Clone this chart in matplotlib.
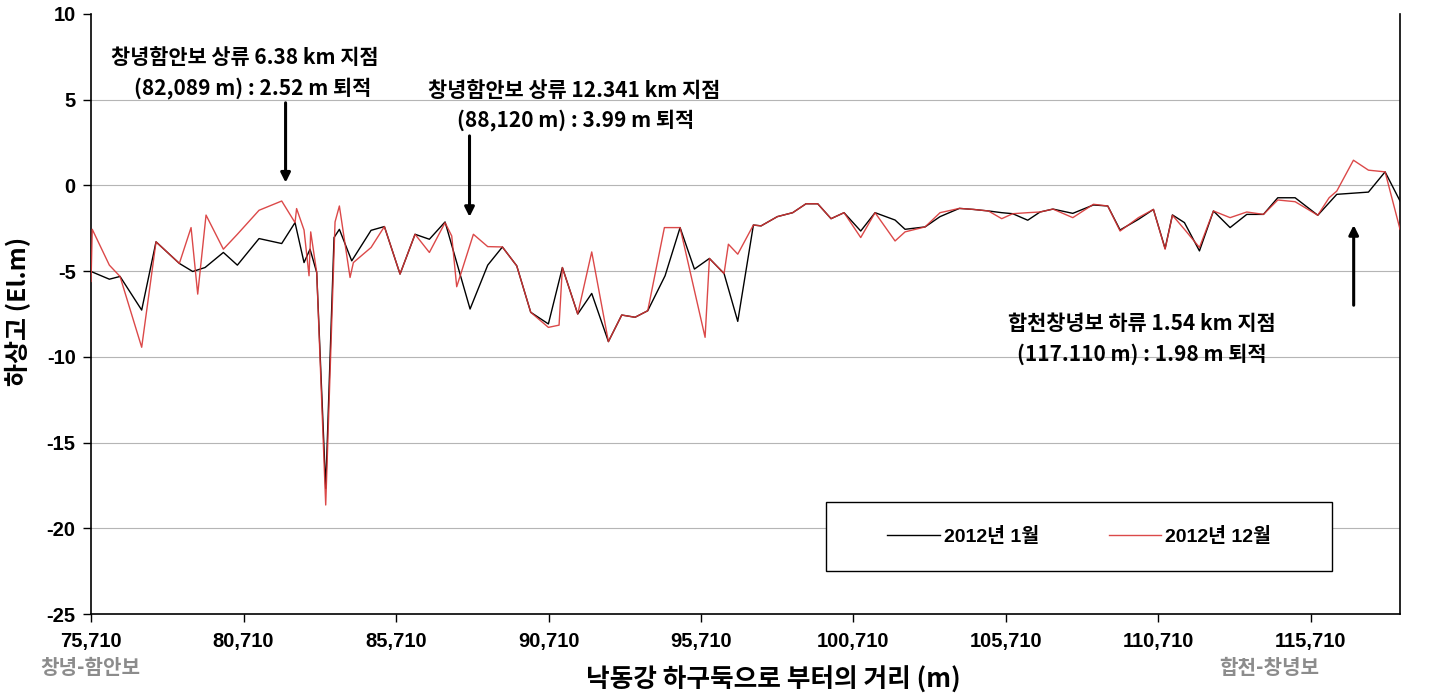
import matplotlib
matplotlib.use('Agg')
from matplotlib import pyplot
from matplotlib.patches import Rectangle
from matplotlib.ticker import FuncFormatter
import numpy

pyplot.rcParams['font.family'] = ['Liberation Sans', 'Noto Sans CJK KR']
pyplot.rcParams['axes.unicode_minus'] = False
KR = ['Noto Sans CJK KR', 'DejaVu Sans']

# 2012년 1월 survey (black)
jan_dist = [75710, 76311, 76661, 77371, 77841, 78606, 79044, 79448, 80049, 80508,
            81219, 81962, 82399, 82694, 82891, 83110, 83405, 83678, 83853, 84258,
            84892, 85329, 85842, 86334, 86804, 87318, 88138, 88717, 89198, 89668,
            90127, 90706, 91165, 91668, 92127, 92674, 93111, 93548, 93963, 94532,
            95024, 95494, 95986, 96466, 96915, 97428, 97680, 98214, 98717, 99154,
            99537, 99974, 100400, 100947, 101417, 102073, 102401, 103057, 103548, 104182,
            104641, 105133, 105570, 105931, 106423, 106827, 107250, 107900, 108577, 109047,
            109451, 110052, 110544, 110927, 111167, 111561, 112053, 112512, 113058, 113605,
            114151, 114621, 115190, 115933, 116556, 117594, 118140, 118630]
jan_elev = [-5.02, -5.47, -5.31, -7.27, -3.29, -4.55, -5.02, -4.79, -3.91, -4.65,
            -3.10, -3.39, -2.17, -4.50, -3.72, -5.08, -17.67, -3.04, -2.56, -4.40,
            -2.62, -2.40, -5.17, -2.85, -3.14, -2.13, -7.21, -4.65, -3.59, -4.69,
            -7.40, -8.08, -4.79, -7.50, -6.30, -9.11, -7.56, -7.69, -7.31, -5.27,
            -2.46, -4.88, -4.26, -5.14, -7.93, -2.31, -2.36, -1.82, -1.59, -1.07,
            -1.07, -1.94, -1.59, -2.66, -1.59, -2.02, -2.56, -2.42, -1.82, -1.34,
            -1.40, -1.49, -1.59, -1.65, -2.03, -1.55, -1.38, -1.63, -1.14, -1.20,
            -2.60, -1.98, -1.40, -3.68, -1.72, -2.17, -3.82, -1.49, -2.46, -1.69,
            -1.69, -0.72, -0.72, -1.74, -0.52, -0.39, 0.79, -0.91]

# 2012년 12월 survey (red)
dec_dist = [75710, 75750, 76311, 76661, 77371, 77841, 78606, 78990, 79208, 79481,
            80049, 80508, 81219, 81962, 82399, 82450, 82694, 82858, 82913, 83110,
            83405, 83711, 83853, 84203, 84312, 84892, 85329, 85842, 86334, 86804,
            87318, 87537, 87700, 88247, 88717, 89198, 89668, 90127, 90706, 91056,
            91165, 91668, 92127, 92674, 93111, 93548, 93963, 94510, 95024, 95844,
            95986, 96466, 96608, 96915, 97428, 97680, 98214, 98717, 99154, 99537,
            99974, 100400, 100947, 101417, 102073, 102401, 103057, 103548, 104182, 104641,
            105133, 105570, 105931, 106423, 106827, 107250, 107900, 108577, 109047, 109451,
            110052, 110544, 110927, 111167, 111561, 112053, 112512, 113058, 113605, 114151,
            114621, 115190, 115933, 116304, 116556, 117102, 117594, 118140, 118630]
dec_elev = [-5.60, -2.56, -4.65, -5.31, -9.44, -3.29, -4.55, -2.46, -6.34, -1.73,
            -3.72, -2.85, -1.45, -0.91, -2.17, -1.35, -2.60, -5.27, -2.71, -5.08,
            -18.64, -2.13, -1.20, -5.37, -4.50, -3.62, -2.40, -5.17, -2.85, -3.91,
            -2.17, -2.95, -5.91, -2.85, -3.57, -3.59, -4.69, -7.40, -8.28, -8.15,
            -4.79, -7.50, -3.88, -9.11, -7.56, -7.69, -7.31, -2.46, -2.46, -8.86,
            -4.26, -5.14, -3.43, -4.01, -2.31, -2.36, -1.82, -1.59, -1.07, -1.07,
            -1.94, -1.59, -3.04, -1.59, -3.24, -2.71, -2.42, -1.59, -1.34, -1.40,
            -1.49, -1.94, -1.65, -1.59, -1.55, -1.38, -1.88, -1.10, -1.20, -2.66,
            -1.88, -1.40, -3.72, -1.74, -2.56, -3.62, -1.49, -1.88, -1.55, -1.69,
            -0.85, -0.95, -1.74, -0.72, -0.33, 1.47, 0.89, 0.79, -2.56]

xticks = numpy.arange(75710, 118000, 5000)
yticks = numpy.arange(-25, 11, 5)
series_labels = ['2012년 1월', '2012년 12월']

# arrows: (x, tail y, tip y), and their two-line notes
arrows = [(82089, 4.98, 0.0), (88120, 3.05, -2.0), (117110, -7.15, -2.15)]
notes = [('창녕함안보 상류 6.38 km 지점', '(82,089 m) : 2.52 m 퇴적'),
         ('창녕함안보 상류 12.341 km 지점', '(88,120 m) : 3.99 m 퇴적'),
         ('합천창녕보 하류 1.54 km 지점', '(117.110 m) : 1.98 m 퇴적')]
note_pos = [(80763, 7.49, 81000, 5.68), (91558, 5.51, 91590, 3.81),
            (110161, -8.07, 110161, -9.82)]

fig = pyplot.figure(figsize=(14.38, 6.95), dpi=100)
ax = fig.add_axes([0.0633, 0.1165, 0.9103, 0.8634])

ax.plot(jan_dist, jan_elev, color='black', lw=1.0, label=series_labels[0], zorder=3)
ax.plot(dec_dist, dec_elev, color='#d83535', lw=1.0, alpha=0.9, label=series_labels[1], zorder=4)

ax.set_xlim(75710, 118630)
ax.set_ylim(-25, 10)
ax.set_xticks(xticks)
ax.set_yticks(yticks)
ax.xaxis.set_major_formatter(FuncFormatter(lambda v, p: '{:,}'.format(int(round(v)))))
ax.tick_params(axis='both', direction='out', length=6, width=1, labelsize=14.5, colors='black')
for lab in ax.get_xticklabels() + ax.get_yticklabels():
    lab.set_fontweight('bold')
ax.tick_params(axis='x', pad=7)
ax.tick_params(axis='y', pad=5)

for y in yticks[1:-1]:
    ax.axhline(y, color='#b5b5b5', lw=0.8, zorder=1)
ax.spines['top'].set_visible(False)
for s in ('left', 'bottom', 'right'):
    ax.spines[s].set_linewidth(1.2)

for (x, y0, y1) in arrows:
    ax.annotate('', xy=(x, y1), xytext=(x, y0),
                arrowprops=dict(arrowstyle='-|>', color='black', lw=2.2, mutation_scale=14))
for (l1, l2), (x1, y1, x2, y2) in zip(notes, note_pos):
    ax.text(x1, y1, l1, ha='center', va='center', fontsize=15, fontweight='bold', family=KR)
    ax.text(x2, y2, l2, ha='center', va='center', fontsize=15, fontweight='bold', family=KR)

# legend with its own box
ax.add_patch(Rectangle((0.5615, 0.0717), 0.3866, 0.115, transform=ax.transAxes,
                       facecolor='white', edgecolor='black', lw=1.0, zorder=5))
leg = ax.legend(loc='center', bbox_to_anchor=(0.7548, 0.1292), ncol=2, frameon=False,
                handlelength=2.7, handletextpad=0.2, columnspacing=3.6,
                prop={'weight': 'bold', 'size': 14})
leg.set_zorder(6)

fig.text(0.0125, 0.552, '하상고 (El.m)', rotation=90, ha='center', va='center',
         fontsize=18, fontweight='bold', family=KR)
fig.text(0.538, 0.022, '낙동강 하구둑으로 부터의 거리 (m)', ha='center', va='center',
         fontsize=18.5, fontweight='bold', family=KR)
fig.text(0.0626, 0.039, '창녕-함안보', ha='center', va='center', fontsize=14.5,
         fontweight='bold', color='#8c8c8c', family=KR)
fig.text(0.8825, 0.039, '합천-창녕보', ha='center', va='center', fontsize=14.5,
         fontweight='bold', color='#8c8c8c', family=KR)

fig.savefig('out.png', dpi=100)
